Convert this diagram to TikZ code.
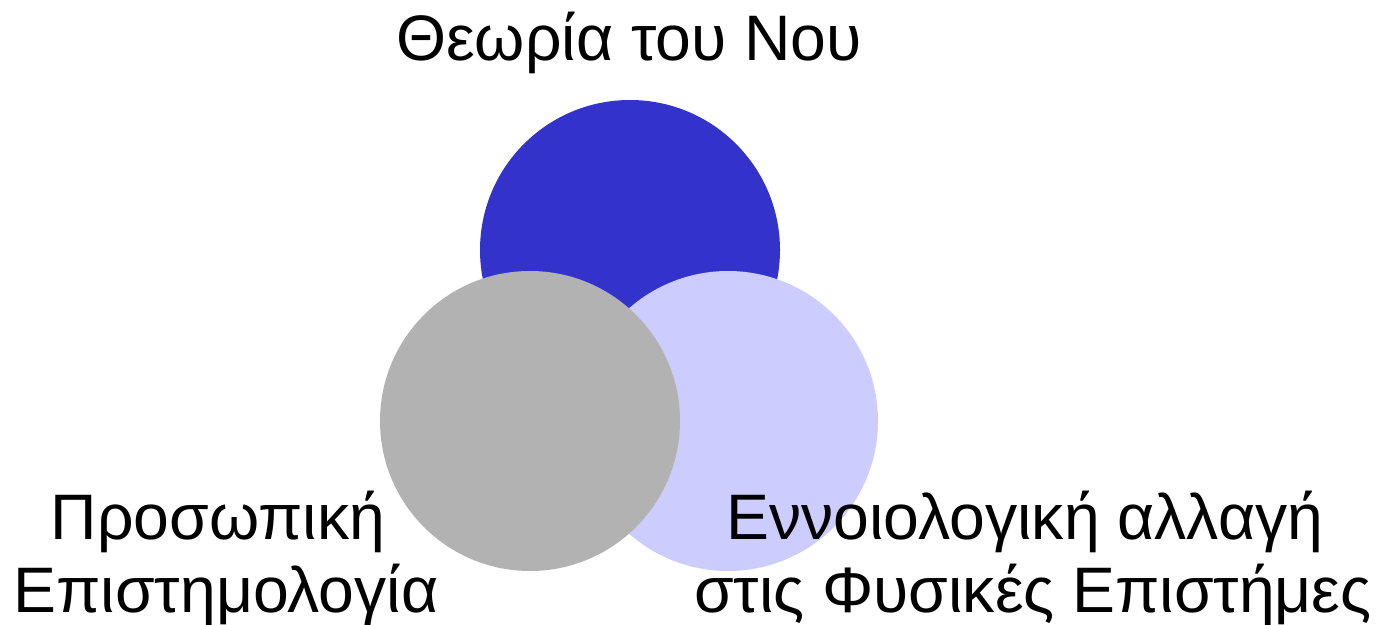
\documentclass[tikz,border=0pt]{standalone}
\usepackage{fontspec}
\setmainfont{Liberation Sans}
\definecolor{cblue}{HTML}{3333CC}
\definecolor{clav}{HTML}{CCCCFF}
\definecolor{cgray}{HTML}{B2B2B2}
\begin{document}
\begin{tikzpicture}[x=1pt,y=-1pt,
  disc/.style={circle,draw=none,minimum size=300pt,inner sep=0pt},
  lbl/.style={anchor=base,inner sep=0pt,font=\fontsize{64.3}{76}\selectfont}]
\useasboundingbox (0,0) rectangle (1384,624);
\node[disc,fill=cblue] (top) at (630,250) {};
\node[disc,fill=clav] (right) at (728,421) {};
\node[disc,fill=cgray] (left) at (530,421) {};
\node[lbl] (t1) at (629,60) {Θεωρία του Νου};
\node[lbl] (l1) at (218,539) {Προσωπική};
\node[lbl] (l2) at (226,612) {Επιστημολογία};
\node[lbl] (r1) at (1025,539) {Εννοιολογική αλλαγή};
\node[lbl] (r2) at (1033,612) {στις Φυσικές Επιστήμες};
\end{tikzpicture}
\end{document}
